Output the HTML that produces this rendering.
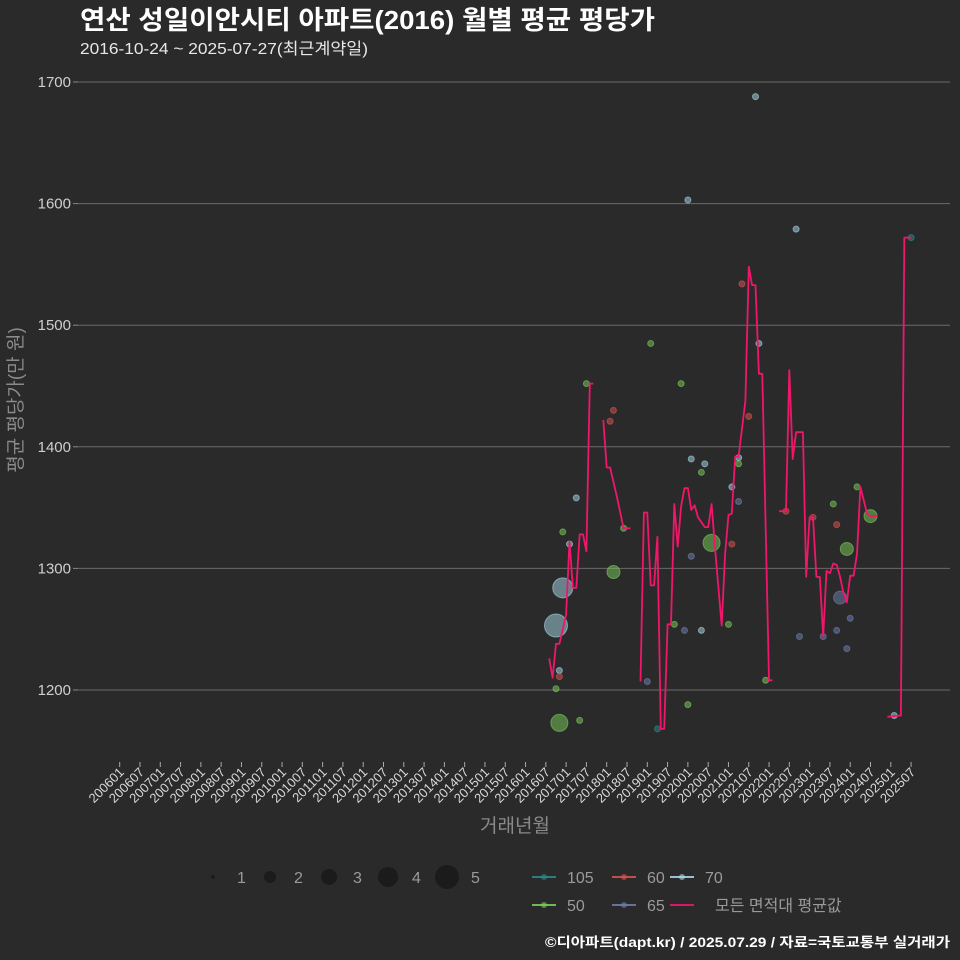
<!DOCTYPE html>
<html><head><meta charset="utf-8">
<style>
body{margin:0;background:#2b2a2b;}
svg{display:block;font-family:"Liberation Sans","Noto Sans CJK KR",sans-serif;}
</style></head>
<body>
<svg id="chart" width="960" height="960" viewBox="0 0 960 960" xmlns="http://www.w3.org/2000/svg">
<rect width="960" height="960" fill="#2b2a2b"/>
<text x="80" y="29" fill="#ffffff" font-size="26" font-weight="bold" textLength="575" lengthAdjust="spacingAndGlyphs">연산 성일이안시티 아파트(2016) 월별 평균 평당가</text>
<text x="80" y="54" fill="#e8e8e8" font-size="16" textLength="288" lengthAdjust="spacingAndGlyphs">2016-10-24 ~ 2025-07-27(최근계약일)</text>
<g id="grid"></g>
<g id="xaxis"></g>
<g id="points"></g>
<g id="line"></g>
<text x="0" y="0" transform="translate(22,400) rotate(-90)" text-anchor="middle" fill="#8a8a8a" font-size="19">평균 평당가(만 원)</text>
<text x="515" y="832" text-anchor="middle" fill="#8a8a8a" font-size="19">거래년월</text>
<g id="legend"></g>
<text x="950" y="947" text-anchor="end" fill="#ffffff" font-size="13.5" font-weight="bold" textLength="405" lengthAdjust="spacingAndGlyphs">©디아파트(dapt.kr) / 2025.07.29 / 자료=국토교통부 실거래가</text>
</svg>
<script>
// ---- data ----
const yTicks = [1200, 1300, 1400, 1500, 1600, 1700];
const xTickLabels = ["200601","200607","200701","200707","200801","200807","200901","200907","201001","201007","201101","201107","201201","201207","201301","201307","201401","201407","201501","201507","201601","201607","201701","201707","201801","201807","201901","201907","202001","202007","202101","202107","202201","202207","202301","202307","202401","202407","202501","202507"];
// average line: months since 2006-01, values (null = gap)
const lineMonths = [127,128,129,130,132,133,134,135,136,137,138,139,140,null,143,144,145,147,149,151,null,154,155,156,157,158,159,160,161,162,163,164,165,166,167,168,169,170,171,173,174,175,176,178,179,180,181,182,183,185,186,187,188,189,190,192,193,null,195,197,198,199,200,202,203,204,205,206,207,208,209,210,211,212,213,214,215,216,217,218,219,221,222,224,null,227,231,232,234];
const lineValues = [1226,1210,1238,1238,1262,1322,1284,1284,1328,1328,1314,1452,1452,null,1422,1383,1383,1359,1333,1333,null,1207,1346,1346,1286,1286,1326,1168,1168,1254,1254,1353,1318,1351,1366,1366,1348,1352,1342,1334,1334,1353,1318,1253,1312,1344,1345,1392,1392,1438,1548,1533,1533,1460,1460,1208,1208,null,1347,1347,1463,1390,1412,1412,1293,1342,1342,1293,1293,1244,1298,1296,1304,1303,1293,1280,1272,1294,1294,1312,1367,1345,1343,1343,null,1178,1179,1572,1572];
// scatter points
const ptMonths = [157,138,166,146,145,169,173,172,135,131,149,175,133,169,146,131,129,164,167,172,180,130,130,129,156,168,130,136,159,168,184,189,186,183,183,181,183,188,181,197,205,211,212,215,213,218,222,201,208,212,216,215,191,229,200,234];
const ptValues = [1485,1452,1452,1430,1421,1390,1386,1379,1358,1330,1333,1321,1320,1310,1297,1284,1253,1254,1249,1249,1254,1216,1211,1201,1207,1188,1173,1175,1168,1603,1534,1485,1425,1391,1386,1367,1355,1688,1320,1347,1342,1353,1336,1316,1276,1367,1343,1244,1244,1249,1259,1234,1208,1179,1579,1572];
const ptAreas = ["50","50","50","60","60","70","70","50","70","50","50","50","70","65","50","70","70","50","65","70","50","70","60","50","65","50","50","50","105","70","60","70","60","70","50","70","65","70","60","60","60","50","60","50","65","50","50","65","65","65","65","65","50","70","70","105"];
const ptCounts = [1,1,1,1,1,1,1,1,1,1,1,3,1,1,2,4,5,1,1,1,1,1,1,1,1,1,3,1,1,1,1,1,1,1,1,1,1,1,1,1,1,1,1,2,2,1,2,1,1,1,1,1,1,1,1,1];
const legendAreas = ["105","60","70","50","65"];

// ---- scales ----
const NS="http://www.w3.org/2000/svg";
const X0=119.7, XM=3.382, YTOP=82, YPX=1.216;
function xScale(m){return X0+m*XM;}
function yScale(v){return YTOP+(1700-v)*YPX;}
const colors={"105":"#2a8a8c","50":"#7ccd5a","60":"#d9534f","65":"#6f7fae","70":"#a8d8e8"};
const radii=[0,3,6.5,8.5,10,11.5];
function mk(tag,attrs,parent){const e=document.createElementNS(NS,tag);for(const k in attrs)e.setAttribute(k,attrs[k]);parent.appendChild(e);return e;}

const grid=document.getElementById('grid');
yTicks.forEach(v=>{
  const y=yScale(v);
  const l=mk('line',{x1:78,x2:950,y1:y,y2:y,stroke:'#6a6a6a','stroke-width':1},grid);
  
  
  const t=mk('line',{x1:73,x2:78,y1:y,y2:y,stroke:'#888','stroke-width':1},grid);
  
  
  const tx=mk('text',{x:71,y:y+5,'text-anchor':'end',fill:'#cfcfcf','font-size':15},grid);
  tx.textContent=v;
  
  
});

const xa=document.getElementById('xaxis');
xTickLabels.forEach((lab,i)=>{
  const x=xScale(i*6);
  const t=mk('line',{x1:x,x2:x,y1:762,y2:767,stroke:'#aaa','stroke-width':1},xa);
  
  
  const tx=mk('text',{x:0,y:0,transform:`translate(${x+5},${773}) rotate(-45)`,'text-anchor':'end',fill:'#d8d8d8','font-size':13},xa);
  tx.textContent=lab;
  
  
});

const pg=document.getElementById('points');
ptMonths.forEach((m,i)=>{
  const c=colors[ptAreas[i]];
  const p=mk('circle',{cx:xScale(m),cy:yScale(ptValues[i]),r:radii[ptCounts[i]],fill:c,'fill-opacity':0.5,stroke:c,'stroke-opacity':0.6,'stroke-width':1},pg);
  
  
});

const lg=document.getElementById('line');
let seg=[];
function flush(){
  if(seg.length>1){
    const pl=mk('polyline',{points:seg.join(' '),fill:'none',stroke:'#f0166a','stroke-width':1.8,'stroke-linejoin':'round'},lg);
    
    
  }
  seg=[];
}
lineMonths.forEach((m,i)=>{
  if(m===null||lineValues[i]===null){flush();return;}
  seg.push(xScale(m).toFixed(1)+','+yScale(lineValues[i]).toFixed(1));
});
flush();

const leg=document.getElementById('legend');
[1,2,3,4,5].forEach((n,i)=>{
  const cx=[213,270,329,388,447][i];
  const c=mk('circle',{cx:cx,cy:877,r:[2,6,8,10,12][i],fill:'#1b1b1b'},leg);
  
  
  const t=mk('text',{x:cx+24,y:883,fill:'#9a9a9a','font-size':16},leg);
  t.textContent=n;
  
  
});
const legPos=[[532,877],[612,877],[670,877],[532,905],[612,905]];
legendAreas.forEach((a,i)=>{
  const [x,y]=legPos[i];
  const l=mk('line',{x1:x,x2:x+24,y1:y,y2:y,stroke:colors[a],'stroke-width':1.8},leg);
  
  
  const d=mk('circle',{cx:x+12,cy:y,r:3,fill:colors[a],'fill-opacity':0.6},leg);
  
  
  const t=mk('text',{x:x+35,y:y+6,fill:'#9a9a9a','font-size':16},leg);
  t.textContent=a;
  
  
});
const al=mk('line',{x1:670,x2:694,y1:905,y2:905,stroke:'#f0166a','stroke-width':1.8},leg);


const at=mk('text',{x:715,y:911,fill:'#9a9a9a','font-size':16},leg);
at.textContent='모든 면적대 평균값';


</script>
</body></html>
